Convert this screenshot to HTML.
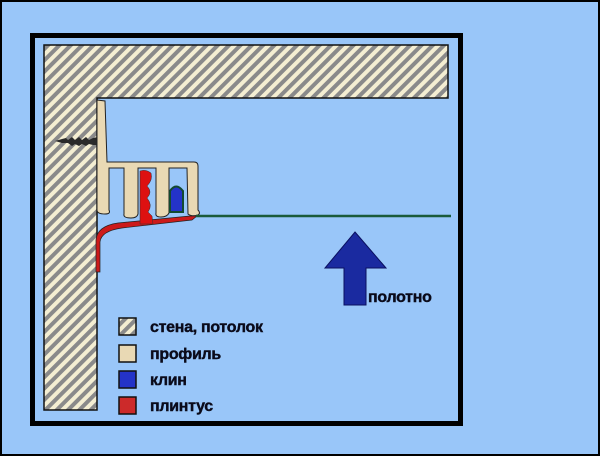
<!DOCTYPE html>
<html><head><meta charset="utf-8"><style>
html,body{margin:0;padding:0;}
body{width:600px;height:456px;background:#99c6f9;overflow:hidden;}
svg{display:block}
text{font-family:"Liberation Sans Narrow","Liberation Sans",sans-serif;font-weight:bold;font-size:16px;fill:#0a0a1a;stroke:#0a0a1a;stroke-width:0.4;letter-spacing:-0.3px;}
</style></head><body>
<svg width="600" height="456" viewBox="0 0 600 456">
<defs>
<pattern id="h" width="8" height="8" patternUnits="userSpaceOnUse" patternTransform="rotate(45)">
<rect width="8" height="8" fill="#f4eed2"/><rect width="4" height="8" fill="#8a8a8a"/>
</pattern>
</defs>
<rect x="1" y="1" width="598" height="454" fill="#99c6f9" stroke="#000" stroke-width="2"/>
<rect x="32.5" y="35.5" width="428" height="388" fill="none" stroke="#000" stroke-width="5"/>
<path d="M44 45 H448 V98 H97 V410 H44 Z" fill="url(#h)" stroke="#111" stroke-width="1.5"/>
<!-- screw -->
<path d="M55 141 L62 139 L66 138 L68 140 L72 137 L75 140 L79 137 L82 140 L86 137 L89 140 L93 138 L98 137 L104 134 L106 136 L106 148 L104 149 L98 145 L93 145 L89 144 L86 146 L82 144 L79 146 L75 144 L72 146 L68 143 L62 143 Z" fill="#2a2a2a"/>
<!-- profile -->
<path d="M97 100 L105 101 L107 162 L194 162 Q198 162 198 166 L198 210 Q201 213 198 215 Q192 217 188 214 L187 168 L169 168 L169 213 Q167 217 161 217 Q155 217 156 213 L156 168 L138 168 L138 214 Q137 218 131 218 Q123 218 124 214 L124 168 L109 168 L109 210 Q111 214 105 214 Q97 214 97 210 Z" fill="#e9d9b4" stroke="#222" stroke-width="1"/>
<!-- wedge -->
<path d="M170 212 L170 191 Q176 182 183 191 L183 212 Z" fill="#2433c8" stroke="#124a30" stroke-width="2"/>
<!-- plinth -->
<path d="M96 272 L96 240 Q97 226 118 223 L190 216 L197 216 L192 220 L122 228 Q101 231 100 242 L100 272 Z" fill="#cc1a1a" stroke="#222" stroke-width="0.7"/>
<path d="M140 224 L140 171 Q146 169 151 173 Q153 180 147 186 Q153 192 147 198 Q153 205 148 212 L152 216 L153 224 Z" fill="#dd1111" stroke="#333" stroke-width="0.5"/>
<line x1="196" y1="216" x2="451" y2="216" stroke="#1a5a3a" stroke-width="2.5"/>
<!-- arrow -->
<path d="M355 232 L386 268 L366 268 L366 305 L344 305 L344 268 L325 268 Z" fill="#1a2aa0" stroke="#0a1060" stroke-width="1"/>
<text x="368" y="302">полотно</text>
<!-- legend -->
<rect x="119" y="318" width="17" height="17" fill="url(#h)" stroke="#111" stroke-width="1.5"/>
<rect x="119" y="345" width="17" height="17" fill="#e9d9b4" stroke="#111" stroke-width="1.5"/>
<rect x="119" y="371" width="17" height="17" fill="#2433c8" stroke="#111" stroke-width="1.5"/>
<rect x="119" y="397" width="17" height="17" fill="#cc2a2a" stroke="#111" stroke-width="1.5"/>
<text x="150" y="332">стена, потолок</text>
<text x="150" y="359">профиль</text>
<text x="150" y="385">клин</text>
<text x="150" y="411">плинтус</text>
</svg>
</body></html>
